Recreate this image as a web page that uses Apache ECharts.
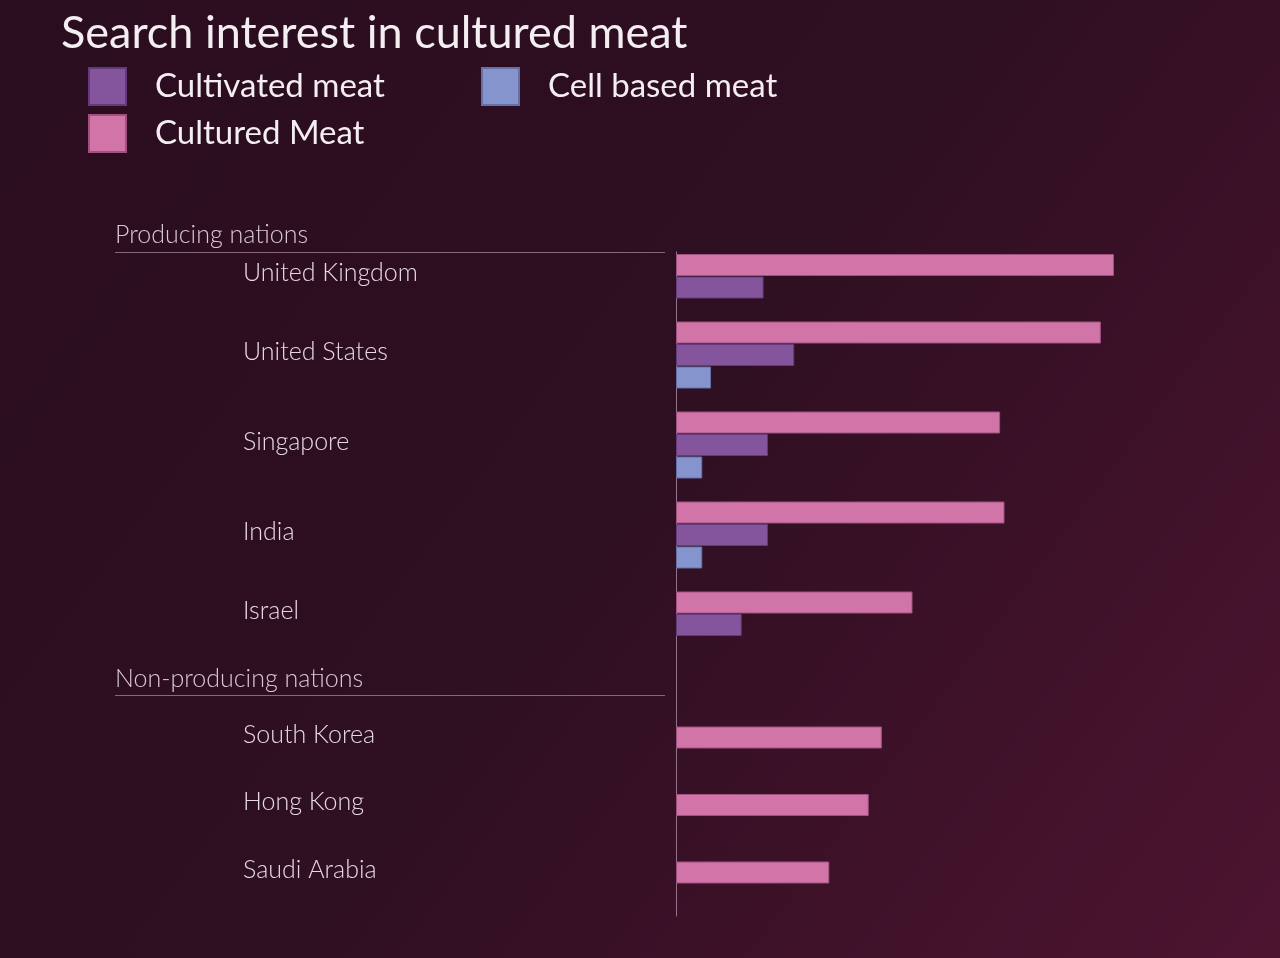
<!DOCTYPE html>
<html>
<head>
<meta charset="utf-8">
<title>Search interest in cultured meat</title>
<script src="https://cdn.jsdelivr.net/npm/echarts@6/dist/echarts.min.js"></script>
<style>
  html, body { margin: 0; padding: 0; }
  #chart { width: 1280px; height: 958px; }
</style>
</head>
<body>
<div id="chart"></div>
<script>
// data
var titleText = 'Search interest in cultured meat';
var seriesNames = ['Cultured Meat', 'Cultivated meat', 'Cell based meat'];
var sectionNames = ['Producing nations', 'Non-producing nations'];
var countries = ['United Kingdom', 'United States', 'Singapore', 'India', 'Israel',
                 'South Korea', 'Hong Kong', 'Saudi Arabia'];
var countrySection = [0, 0, 0, 0, 0, 1, 1, 1];
var culturedMeat   = [100, 97, 74, 75, 54, 47, 44, 35];
var cultivatedMeat = [20, 27, 21, 21, 15, null, null, null];
var cellBasedMeat  = [null, 8, 6, 6, null, null, null, null];

var colors = ['#d174a8', '#84559d', '#8594cc'];
var borders = ['#a0517f', '#633a7a', '#6371a8'];
var slotPx = 22.5;

// build one category row per bar, with blank rows between countries
var slotLabels = [];
var rows = [[], [], []];
function addSlot(label, vals) {
    slotLabels.push(label);
    for (var k = 0; k < 3; k++) rows[k].push(vals[k] == null ? '-' : vals[k]);
}
for (var i = 0; i < countries.length; i++) {
    if (i > 0 && countrySection[i] !== countrySection[i - 1]) {
        for (var h = 0; h < 3; h++) addSlot('', [null, null, null]);
    }
    var vals = [culturedMeat[i], cultivatedMeat[i], cellBasedMeat[i]];
    var bars = vals.filter(function (v) { return v != null; }).length;
    var labelAt = Math.floor((bars - 1) / 2);
    var style = bars % 2 === 0 ? 'half' : 'mid';
    var n = 0;
    for (var s = 0; s < 3; s++) {
        if (vals[s] == null) continue;
        var one = [null, null, null];
        one[s] = vals[s];
        addSlot(n === labelAt ? '{' + style + '|' + countries[i] + '}' : '', one);
        n++;
    }
    var pad = Math.max(bars + 1, 3) - bars;
    for (var p = 0; p < pad; p++) addSlot('', [null, null, null]);
}

var myChart = echarts.init(document.getElementById('chart'));
var gridTop = 253.75;
var labelFont = 'Lato, "Open Sans", sans-serif';

var option = {
    backgroundColor: {
        type: 'linear', x: 0, y: 0, x2: 1, y2: 1,
        colorStops: [
            { offset: 0, color: '#2a0d1f' },
            { offset: 0.5, color: '#2f0f22' },
            { offset: 1, color: '#4d1430' }
        ]
    },
    animation: false,
    title: {
        text: titleText,
        left: 56,
        top: 6,
        textStyle: { color: '#f4eef2', fontSize: 45, fontWeight: 'normal', fontFamily: labelFont }
    },
    legend: [
        {
            data: ['Cultivated meat', 'Cultured Meat'],
            orient: 'vertical',
            left: 88, top: 67, padding: 0,
            itemWidth: 37, itemHeight: 37, itemGap: 8,
            icon: 'rect',
            textStyle: { color: '#f4eef2', fontSize: 33, fontFamily: labelFont, padding: [0, 0, 0, 24] }
        },
        {
            data: ['Cell based meat'],
            orient: 'vertical',
            left: 481, top: 67, padding: 0,
            itemWidth: 37, itemHeight: 37,
            icon: 'rect',
            textStyle: { color: '#f4eef2', fontSize: 33, fontFamily: labelFont, padding: [0, 0, 0, 24] }
        }
    ],
    grid: [
        { left: 676, right: 166, top: gridTop, height: slotLabels.length * slotPx },
        { left: 676, top: 252, width: 1, height: 664 }
    ],
    xAxis: [
        { type: 'value', min: 0, max: 100, show: false },
        { type: 'value', gridIndex: 1, show: false }
    ],
    yAxis: [
        {
            type: 'category',
            data: slotLabels,
            inverse: true,
            axisLine: { show: false },
            axisTick: { show: false },
            axisLabel: {
                interval: 0,
                align: 'left',
                margin: 433,
                color: '#e6dae2',
                fontSize: 25,
                fontWeight: 300,
                fontFamily: labelFont,
                rich: {
                    mid: { fontSize: 25, fontWeight: 300, fontFamily: labelFont, color: '#e6dae2', padding: [0, 0, 6, 0] },
                    half: { fontSize: 25, fontWeight: 300, fontFamily: labelFont, color: '#e6dae2', padding: [16, 0, 0, 0] }
                }
            }
        },
        {
            type: 'value',
            gridIndex: 1,
            axisLine: { show: true, lineStyle: { color: '#93728a', width: 1 } },
            axisTick: { show: false },
            axisLabel: { show: false },
            splitLine: { show: false }
        }
    ],
    graphic: [
        {
            type: 'text', left: 115, top: 222,
            style: { text: sectionNames[0], fill: '#d9c9d3', fontSize: 25, fontWeight: 300, fontFamily: labelFont }
        },
        {
            type: 'line', shape: { x1: 115, y1: 252.5, x2: 665, y2: 252.5 },
            style: { stroke: '#86687c', lineWidth: 1 }
        },
        {
            type: 'text', left: 115, top: 666,
            style: { text: sectionNames[1], fill: '#d9c9d3', fontSize: 25, fontWeight: 300, fontFamily: labelFont }
        },
        {
            type: 'line', shape: { x1: 115, y1: 695.5, x2: 665, y2: 695.5 },
            style: { stroke: '#86687c', lineWidth: 1 }
        }
    ],
    series: seriesNames.map(function (name, k) {
        return {
            name: name,
            type: 'bar',
            stack: 'all',
            data: rows[k],
            barWidth: 22,
            itemStyle: { color: colors[k], borderColor: borders[k], borderWidth: 1 }
        };
    })
};
myChart.setOption(option);
</script>
</body>
</html>
